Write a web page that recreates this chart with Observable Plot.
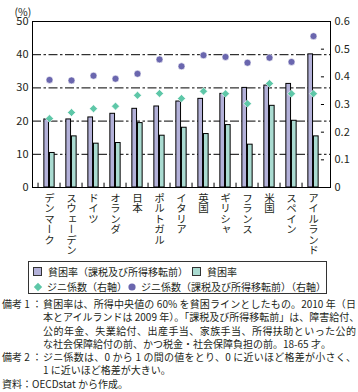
<!DOCTYPE html>
<html><head><meta charset="utf-8">
<script src="https://cdn.jsdelivr.net/npm/d3@7"></script>
<script src="https://cdn.jsdelivr.net/npm/@observablehq/plot@0.6"></script>
<style>
html,body{margin:0;padding:0;background:#fff;}
body{font-family:"Noto Sans CJK JP","Noto Sans",sans-serif;color:#231f20;width:358px;min-height:392px;}
#chart svg{display:block;}
#legend{margin:3px 0 0 28px;width:299px;height:33px;border:1px solid #333;box-sizing:border-box;font-size:10px;line-height:12px;padding-top:2px;}
#legend .row{display:flex;align-items:center;height:15px;white-space:nowrap;}
#legend .sw{display:inline-block;width:7px;height:7px;border:1px solid #333;margin-left:4px;margin-right:6px;flex:none;}
#legend .mk{display:inline-block;width:10px;height:10px;margin-left:4px;margin-right:4px;flex:none;}
#notes{margin-top:3px;width:356px;font-size:10px;line-height:13.3px;}
#notes .ln{white-space:nowrap;}
#notes .j{text-align:justify;text-align-last:justify;}
#notes .ind{padding-left:43px;}
#notes .hd{display:inline-block;width:41px;margin-left:2px;flex:none;}
#notes .fl{display:flex;}
#notes .fl .tx{flex:1;text-align:justify;text-align-last:justify;white-space:nowrap;}
</style></head><body>
<div id="chart"></div>
<div id="legend">
  <div class="row"><span class="sw" style="background:#b3b1d9"></span><span style="width:144px;display:inline-block">貧困率（課税及び所得移転前）</span><span class="sw" style="background:#aadbd1;margin-left:0"></span><span>貧困率</span></div>
  <div class="row"><svg class="mk" viewBox="0 0 10 10"><path d="M5,0.8L9.2,5L5,9.2L0.8,5Z" fill="#5ec7a8"/></svg><span style="width:90px;display:inline-block">ジニ係数（右軸）</span><svg class="mk" viewBox="0 0 10 10" style="margin-left:0"><circle cx="5" cy="5" r="3.6" fill="#6a66ae"/></svg><span>ジニ係数（課税及び所得移転前）（右軸）</span></div>
</div>
<div id="notes">
  <div class="fl"><span class="hd">備考 1 ：</span><span class="tx">貧困率は、所得中央値の 60% を貧困ラインとしたもの。2010 年（日</span></div>
  <div class="ln j ind">本とアイルランドは 2009 年）。「課税及び所得移転前」は、障害給付、</div>
  <div class="ln j ind">公的年金、失業給付、出産手当、家族手当、所得扶助といった公的</div>
  <div class="ln ind">な社会保障給付の前、かつ税金・社会保障負担の前。18-65 才。</div>
  <div class="fl"><span class="hd">備考 2 ：</span><span class="tx">ジニ係数は、0 から 1 の間の値をとり、0 に近いほど格差が小さく、</span></div>
  <div class="ln ind">1 に近いほど格差が大きい。</div>
  <div class="ln" style="padding-left:2px">資料：OECDstat から作成。</div>
</div>
<script>
const countries = ["デンマーク","スウェーデン","ドイツ","オランダ","日本","ポルトガル","イタリア","英国","ギリシャ","フランス","米国","スペイン","アイルランド"];
const povertyBefore = [20.5,20.5,21.1,22.2,23.7,24.4,25.9,26.7,28.2,30.0,30.7,31.2,40.1];
const povertyAfter = [10.4,15.4,13.2,13.4,19.4,15.6,18.0,16.1,18.8,12.9,24.6,20.1,15.4];
const giniAfter = [0.249,0.271,0.285,0.294,0.333,0.340,0.322,0.348,0.339,0.303,0.376,0.339,0.339];
const giniBefore = [0.389,0.387,0.404,0.393,0.411,0.463,0.438,0.478,0.472,0.451,0.469,0.454,0.547];
const leftTicks = [0,10,20,30,40,50];
const gridTicks = [10,20,30,40];
const rightTicks = [0,0.1,0.2,0.3,0.4,0.5,0.6];

const giniMax = 0.6, pctMax = 50;
const g2p = g => g / giniMax * pctMax;
const rows = countries.map((c,i)=>({c, pb: povertyBefore[i], pa: povertyAfter[i], gb: g2p(giniBefore[i]), ga: g2p(giniAfter[i])}));

const W = 358, ML = 32, MR = 28, H = 258, MT = 21, MB = 71;
const bw = (W - ML - MR) / countries.length;
const barW = 5.6;

const chart = Plot.plot({
  width: W, height: H,
  marginLeft: ML, marginRight: MR, marginTop: MT, marginBottom: MB,
  style: {fontFamily: '"Noto Sans CJK JP", sans-serif', fontSize: "11px", color: "#231f20", background: "#fff"},
  x: {type: "band", domain: countries, padding: 0, label: null},
  y: {domain: [0, 50], label: null},
  marks: [
    Plot.ruleY(gridTicks, {stroke: "#000", strokeWidth: 1, strokeDasharray: "9,2.5,2.5,2.5"}),
    Plot.barY(rows, {x: "c", y: "pb", fill: "#b3b1d9", stroke: "#000", strokeWidth: 1, insetLeft: bw/2 - barW, insetRight: bw/2}),
    Plot.barY(rows, {x: "c", y: "pa", fill: "#aadbd1", stroke: "#000", strokeWidth: 1, insetLeft: bw/2, insetRight: bw/2 - barW}),
    Plot.ruleX(countries, {x: d => d, y1: 0, y2: 1.3, dx: -bw/2, stroke: "#000"}),
    Plot.frame({stroke: "#000", strokeWidth: 1}),
    Plot.dot(rows, {x: "c", y: "gb", r: 3.5, fill: "#6a66ae", stroke: "#fff", strokeWidth: 0.6}),
    Plot.dot(rows, {x: "c", y: "ga", symbol: "diamond2", r: 3.6, fill: "#5ec7a8", stroke: "#fff", strokeWidth: 0.6}),
    Plot.axisY(leftTicks, {anchor: "left", tickSize: 0, tickPadding: 4, label: null, fontSize: 11}),
    Plot.axisY(rightTicks.map(g2p), {anchor: "right", tickSize: 0, tickPadding: 4, label: null, fontSize: 11,
      tickFormat: d => String(Math.round(d / pctMax * giniMax * 10) / 10)}),
    Plot.tickY(rightTicks.slice(1, -1).map(g2p), {x: () => countries[countries.length-1], stroke: "#000", insetLeft: bw - 4}),
    Plot.axisX({anchor: "bottom", tickSize: 0, tickPadding: 5, label: null, fontSize: 10.5}),
    Plot.text(["(%)"], {frameAnchor: "top-left", dx: -18, dy: -13, text: d => d, fontSize: 10.5, textAnchor: "start"})
  ]
});
document.getElementById("chart").appendChild(chart);
d3.select(chart).selectAll('g[aria-label="x-axis tick label"] text')
  .attr("y", null).attr("dy", null)
  .attr("text-anchor", "start")
  .style("writing-mode", "vertical-rl")
  .style("text-orientation", "upright");
</script>
</body></html>
